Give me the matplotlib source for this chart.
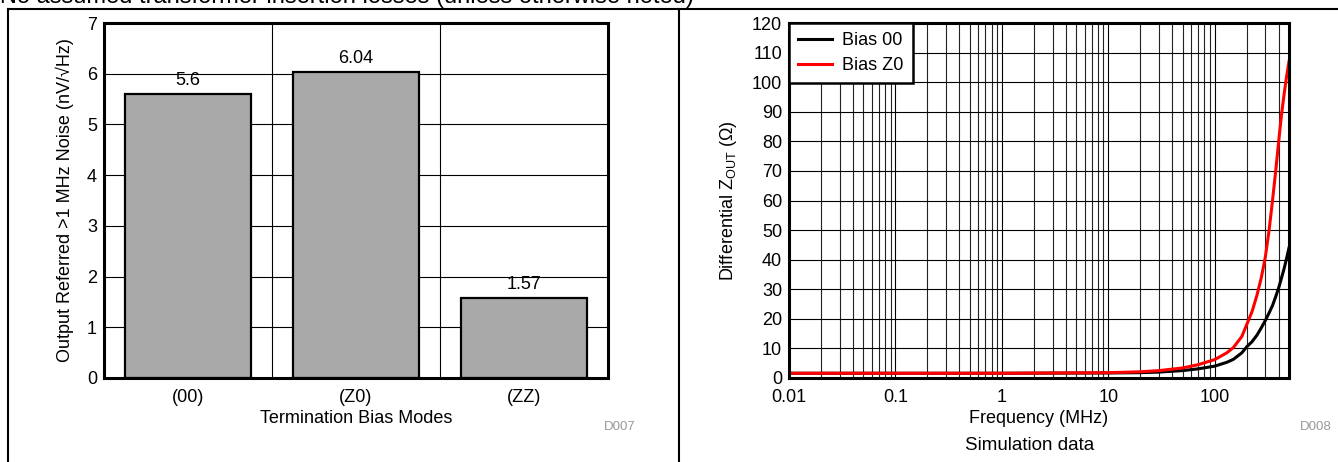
import matplotlib
matplotlib.use("Agg")
import matplotlib.pyplot as plt
from matplotlib.lines import Line2D
from matplotlib.ticker import FixedLocator, NullFormatter, LogLocator

plt.rcParams['font.family'] = ['Liberation Sans', 'DejaVu Sans']
plt.rcParams['mathtext.fontset'] = 'custom'
plt.rcParams['mathtext.rm'] = 'Liberation Sans'

# ---------------- data ----------------
modes = ["(00)", "(Z0)", "(ZZ)"]
noise = [5.6, 6.04, 1.57]

freq_mhz = [0.01, 0.1, 1, 10, 20, 30, 50, 70, 100, 130, 150, 180, 200,
            225, 250, 275, 300, 325, 350, 375, 400, 425, 450, 475, 500]
zout_bias00 = [1.6, 1.6, 1.6, 1.7, 1.8, 2.0, 2.5, 3.1, 4.0, 5.3, 6.3, 8.5,
               10.5, 12.3, 14.5, 17.0, 19.5, 22.0, 24.5, 27.5, 30.5, 33.8, 37.0, 40.5, 44.0]
zout_biasz0 = [1.6, 1.6, 1.6, 1.8, 2.1, 2.5, 3.4, 4.5, 6.2, 8.5, 10.3, 14.0,
               18.0, 22.5, 28.0, 34.0, 41.0, 50.0, 60.0, 70.0, 80.0, 89.0, 96.0, 102.0, 107.0]
series_labels = ["Bias 00", "Bias Z0"]
series_colors = ["#000000", "#ff0000"]

xticks_r = [0.01, 0.1, 1, 10, 100]
xtick_labels_r = ["0.01", "0.1", "1", "10", "100"]

W, H = 1338, 462
fig = plt.figure(figsize=(W / 100, H / 100), dpi=100)

def px_axes(x0, y0, x1, y1):
    return fig.add_axes([x0 / W, 1 - y1 / H, (x1 - x0) / W, (y1 - y0) / H])

FS = 13
SP = 2.2

# ---------------- frame & header ----------------
fig.add_artist(Line2D([8 / W, 1], [1 - 9 / H, 1 - 9 / H], color='black', lw=1.5))
fig.add_artist(Line2D([8 / W, 8 / W], [0, 1 - 9 / H], color='black', lw=1.5))
fig.add_artist(Line2D([679 / W, 679 / W], [0, 1 - 9 / H], color='black', lw=1.5))
fig.text(0 / W, 1 - 3 / H, "No assumed transformer insertion losses (unless otherwise noted)",
         fontsize=17, va='baseline', ha='left')

# ---------------- left chart ----------------
ax = px_axes(104, 23, 608, 378)
x = list(range(len(modes)))
ax.bar(x, noise, width=0.75, color='#a9a9a9', edgecolor='black', linewidth=1.6, zorder=3)
for xi, v in zip(x, noise):
    ax.text(xi, v + 0.1, f"{v:g}", ha='center', va='bottom', fontsize=FS, zorder=4)
ax.set_xlim(-0.5, len(modes) - 0.5)
ax.set_ylim(0, 7)
ax.set_yticks(range(0, 8))
ax.set_xticks(x)
ax.set_xticklabels(modes)
ax.xaxis.set_minor_locator(FixedLocator([0.5, 1.5]))
ax.grid(True, which='major', axis='y', color='black', lw=0.8, zorder=0)
ax.grid(True, which='minor', axis='x', color='black', lw=0.8, zorder=0)
ax.tick_params(axis='y', which='both', length=0, labelsize=FS, pad=5)
ax.tick_params(axis='x', which='both', length=0, labelsize=FS, pad=8)
for s in ax.spines.values():
    s.set_linewidth(SP)
    s.set_zorder(5)
ax.set_ylabel("Output Referred >1 MHz Noise (nV/\u221aHz)", fontsize=FS, labelpad=9)
ax.set_xlabel("Termination Bias Modes", fontsize=FS, labelpad=3)
fig.text(620 / W, 1 - 427 / H, "D007", fontsize=9.5, color='#999999', ha='center', va='center')

# ---------------- right chart ----------------
ar = px_axes(789, 23, 1289, 378)
for vals, lab, col in zip([zout_bias00, zout_biasz0], series_labels, series_colors):
    ar.plot(freq_mhz, vals, color=col, lw=2.2, label=lab, zorder=3)
ar.set_xscale('log')
ar.set_xlim(0.01, 500)
ar.set_ylim(0, 120)
ar.set_yticks(range(0, 121, 10))
ar.set_xticks(xticks_r)
ar.set_xticklabels(xtick_labels_r)
ar.xaxis.set_minor_locator(LogLocator(base=10, subs=range(2, 10), numticks=20))
ar.xaxis.set_minor_formatter(NullFormatter())
ar.grid(True, which='major', axis='both', color='black', lw=0.8, zorder=0)
ar.grid(True, which='minor', axis='x', color='#222222', lw=0.8, zorder=0)
ar.tick_params(axis='y', which='both', length=0, labelsize=FS, pad=5)
ar.tick_params(axis='x', which='both', length=0, labelsize=FS, pad=8)
for s in ar.spines.values():
    s.set_linewidth(SP)
    s.set_zorder(5)
ar.set_ylabel("Differential Z$_{\\mathrm{OUT}}$ (\u03a9)", fontsize=FS, labelpad=9)
ar.set_xlabel("Frequency (MHz)", fontsize=FS, labelpad=3)
leg = ar.legend(loc='upper left', fontsize=FS, fancybox=False, framealpha=1,
                edgecolor='black', borderaxespad=0, handlelength=1.9,
                borderpad=0.5, labelspacing=0.45, handletextpad=0.55)
leg.get_frame().set_linewidth(1.8)
leg.set_zorder(6)
fig.text(1316 / W, 1 - 427 / H, "D008", fontsize=9.5, color='#999999', ha='center', va='center')
fig.text(1030 / W, 1 - 446 / H, "Simulation data", fontsize=13.5, ha='center', va='center')

fig.savefig("out.png", dpi=100)
